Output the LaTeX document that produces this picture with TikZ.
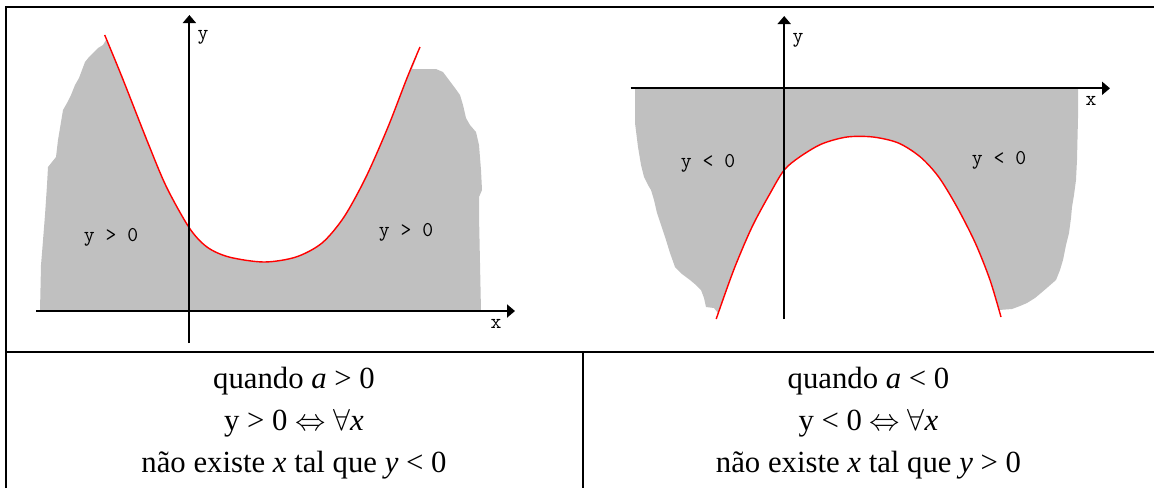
\documentclass[tikz,border=0pt]{standalone}
\usepackage{fontspec}
\setmainfont{Liberation Serif}
\usetikzlibrary{arrows.meta}
\definecolor{fillgray}{HTML}{C0C0C0}
\definecolor{curvered}{HTML}{FF0000}
\tikzset{
  axs/.style={-{Triangle[length=1.6mm,width=2.6mm]},line width=1.1pt},
  curve/.style={draw=curvered,fill=white,line width=0.8pt},
  blob/.style={fill=fillgray,draw=none},
  lbl/.style={font=\ttfamily\fontsize{12}{14}\selectfont,inner sep=0pt},
  cell/.style={font=\fontsize{17.5}{20}\selectfont,anchor=base,inner sep=0pt},
  tabline/.style={line width=1.5pt},
}

\begin{document}
\begin{tikzpicture}[x=0.02cm,y=-0.02cm]
\useasboundingbox (0,0) rectangle (1154,488);
% a > 0
\fill[blob] (40,311) -- (41,265) -- (42,253) -- (45,215) -- (47,185) -- (48,167) -- (52,162) -- (56,157)
  -- (58,140) -- (61,122) -- (63,110) -- (67,103) -- (71,95) -- (75,85) -- (79,78) -- (82,70) -- (85,62)
  -- (89,57) -- (94,52) -- (98,48) -- (103,45) -- (106,40) -- (417,56) -- (412,69) -- (436,69)
  -- (443,72) -- (449,80) -- (455,88) -- (460,95) -- (463,105) -- (466,118) -- (470,125) -- (476,132)
  -- (479,145) -- (481,170) -- (482,190) -- (479,197) -- (479,215) -- (481,311) -- cycle;
\filldraw[curve] plot[smooth] coordinates {(104.7,35) (122,77) (148,143) (166.5,187) (189.4,228)
  (207,247) (229,257) (264,262) (296,257) (322,243) (344,217) (366,177) (388,127) (407,78) (420,47)};
\coordinate (xa1) at (36,311);   \coordinate (xa2) at (515,311);
\coordinate (ya1) at (189.4,343); \coordinate (ya2) at (189.4,15);
\draw[axs] (xa1) -- (xa2);
\draw[axs] (ya1) -- (ya2);
\node[lbl] (ly1) at (203,37) {y};
\node[lbl] (lx1) at (496,324) {x};
\node[lbl] (lp1) at (111,237) {y > 0};
\node[lbl] (lp2) at (406,232) {y > 0};
% a < 0
\fill[blob] (635,88) -- (635,123) -- (638,147) -- (641,165) -- (644,177) -- (648,185) -- (651,190)
  -- (654,200) -- (657,213) -- (661,225) -- (666,240) -- (670,253) -- (675,267) -- (682,274) -- (690,280)
  -- (696,285) -- (701,290) -- (704,298) -- (706,307) -- (714,308) -- (718,313) -- (998,312)
  -- (999,310) -- (1012,309) -- (1020,306) -- (1027,303) -- (1035,298) -- (1041,293) -- (1048,287)
  -- (1056,280) -- (1060,270) -- (1063,260) -- (1066,245) -- (1069,233) -- (1071,218) -- (1072,207)
  -- (1074,195) -- (1076,180) -- (1077,160) -- (1078,118) -- (1078,88) -- cycle;
\filldraw[curve] plot[smooth] coordinates {(716.2,319) (733.7,270) (752,227) (770.3,193) (784.2,170)
  (799.6,157) (821.6,144) (847,137) (873,137) (898.4,143) (920.4,157) (938.7,177) (957,207)
  (975.3,243) (990,280) (1001,317)};
\coordinate (xb1) at (630.5,88.3); \coordinate (xb2) at (1110,88.3);
\coordinate (yb1) at (784.2,319);  \coordinate (yb2) at (784.2,16);
\draw[axs] (xb1) -- (xb2);
\draw[axs] (yb1) -- (yb2);
\node[lbl] (ly2) at (798,40) {y};
\node[lbl] (lx2) at (1091,101) {x};
\node[lbl] (ln1) at (708,163) {y < 0};
\node[lbl] (ln2) at (999,160) {y < 0};
% table
\draw[tabline] (6,488) -- (6,7) -- (1154,7);
\draw[tabline] (6,352) -- (1154,352);
\draw[tabline] (583,352) -- (583,488);
\node[cell] (c1) at (294,388) {quando \textit{a} > 0};
\node[cell] (c2) at (294,430) {y > 0 $\Leftrightarrow$ $\forall$\textit{x}};
\node[cell] (c3) at (294,472) {não existe \textit{x} tal que \textit{y} < 0};
\node[cell] (d1) at (868.5,388) {quando \textit{a} < 0};
\node[cell] (d2) at (868.5,430) {y < 0 $\Leftrightarrow$ $\forall$\textit{x}};
\node[cell] (d3) at (868.5,472) {não existe \textit{x} tal que \textit{y} > 0};
\end{tikzpicture}
\end{document}
